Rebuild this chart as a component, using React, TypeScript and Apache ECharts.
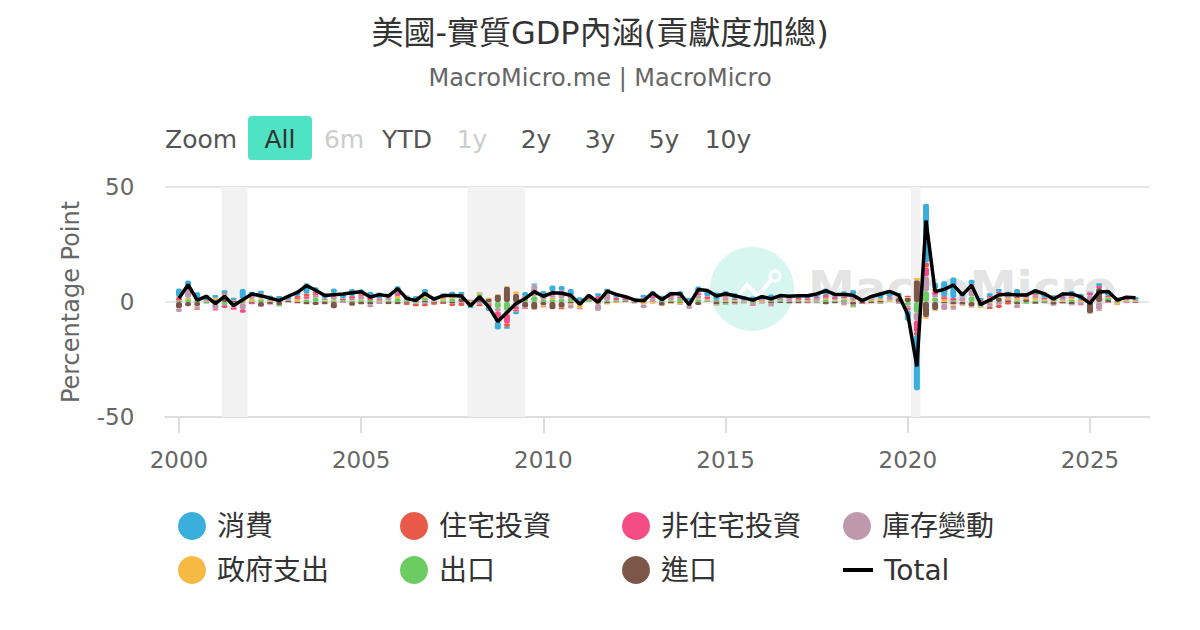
import React, { useEffect, useRef } from "react";
import * as echarts from "echarts";

// Quarterly data, 2000 Q1 .. 2026 Q2 (contribution to real GDP growth, percentage points)
const startYear = 2000;

const consumption = [
  3.6, 2.5, 2.4, 2.5, 1.1, 1.2, 1.0, 4.3, 1.2, 1.2, 1.9, 1.2, 1.6, 2.3, 4.4, 2.0,
  2.4, 2.0, 2.3, 3.0, 2.1, 2.3, 2.6, 0.8, 2.8, 1.0, 1.9, 2.7, 1.7, 0.7, 1.4, 0.8,
  -0.4, 0.1, -2.2, -3.4, -0.7, -1.2, 1.9, 0.5, 1.6, 2.5, 2.0, 3.0, 1.4, 0.6, 1.2, 0.7,
  1.7, 0.8, 1.0, 1.3, 2.3, 0.9, 1.5, 2.4, 1.0, 2.6, 2.5, 3.1, 2.1, 2.5, 2.0, 1.5,
  1.8, 2.4, 1.8, 1.4, 1.6, 1.6, 1.5, 2.9, 1.5, 2.4, 2.2, 0.7, 0.8, 2.6, 2.4, 1.2,
  -4.5, -24.0, 25.5, 2.6, 6.5, 9.0, 2.3, 2.0, 0.8, 1.2, 1.2, 0.8, 3.3, 0.7, 2.1, 2.3,
  1.3, 1.9, 2.5, 2.7, 0.4, 1.1, 2.4, 1.5, 1.3, 1.2,
];
const residential = [
  0.3, 0.0, -0.4, 0.1, 0.2, 0.3, 0.1, 0.2, 0.5, 0.3, 0.2, 0.4, 0.2, 0.5, 1.2, 0.6,
  0.4, 0.8, 0.1, 0.3, 0.5, 0.4, 0.3, 0.1, 0.1, -1.0, -1.1, -1.0, -0.9, -0.6, -1.2, -1.4,
  -1.3, -0.9, -0.7, -1.3, -1.7, -0.8, 0.4, 0.0, -0.3, 0.7, -0.8, 0.3, -0.1, 0.2, 0.0, 0.4,
  0.3, 0.2, 0.3, 0.5, 0.3, 0.4, 0.3, 0.0, -0.1, 0.3, 0.1, 0.3, 0.4, 0.4, 0.2, 0.4,
  0.5, -0.2, 0.1, 0.3, 0.5, -0.2, 0.0, 0.4, 0.1, -0.2, -0.2, -0.2, -0.1, -0.2, 0.2, 0.2,
  0.6, -1.4, 2.2, 1.2, 0.5, -0.3, -0.3, -0.1, 0.0, -0.8, -1.4, -1.1, -0.2, 0.0, 0.3, 0.1,
  0.4, -0.1, -0.2, 0.2, -0.1, -0.2, -0.2, -0.1, 0.0, 0.0,
];
const nonResidential = [
  1.5, 1.6, 1.0, 0.3, -0.6, -1.2, -1.0, -1.6, -0.7, -0.2, -0.2, 0.0, -0.1, 0.8, 1.1, 0.9,
  -0.1, 0.7, 0.8, 0.9, 0.5, 0.9, 0.6, 0.5, 1.3, 0.6, 0.6, 0.1, 0.2, 1.5, 1.1, 0.8,
  0.3, 0.1, -0.3, -3.2, -4.0, -1.5, -0.5, -0.1, 0.3, 1.1, 1.1, 0.9, -0.2, 1.1, 1.9, 1.1,
  1.0, 0.6, -0.1, 0.9, 0.5, 0.3, 0.4, 0.9, 0.8, 0.9, 1.2, 0.1, 0.2, 0.1, -0.1, -0.5,
  -0.1, 0.4, 0.3, 0.2, 0.6, 0.8, 0.5, 0.8, 1.0, 0.7, 0.4, 0.4, 0.5, 0.0, 0.3, 0.0,
  -1.2, -4.8, 3.8, 1.5, 0.9, 1.2, 0.2, 0.4, 0.7, 0.6, 0.6, 0.5, 0.7, 0.9, 0.4, 0.5,
  0.6, 0.5, 0.5, -0.4, 1.3, 0.9, 0.4, 0.4, 0.5, 0.4,
];
const inventories = [
  -1.6, 3.4, -1.0, -0.3, -2.6, 0.9, -0.7, -2.6, 1.5, 2.0, 0.0, 0.4, 0.5, -0.3, 0.2, 1.0,
  0.1, 1.5, -0.4, 0.6, 1.2, -1.3, -0.8, 1.6, -0.1, 0.6, -0.3, -0.9, 0.3, 0.1, 0.2, -0.3,
  -0.8, -1.0, -0.4, -1.5, -1.4, -1.6, 0.3, 5.0, 2.0, 1.0, 2.5, -1.6, -0.2, 0.1, -3.0, 3.2,
  0.2, 0.0, -0.3, -1.6, 1.5, 0.5, 1.8, -0.3, -1.5, 1.4, 0.0, -0.2, 1.6, -0.4, -0.4, -0.7,
  -0.4, -1.0, 0.3, 1.3, -0.2, 0.3, 1.2, 0.4, 0.4, -1.2, 2.2, 0.2, 0.6, 0.2, 1.0, -0.9,
  -0.8, -3.5, 6.5, 1.0, -2.7, -1.5, 2.0, 4.9, 0.2, -1.9, -1.2, 1.6, -1.4, 0.3, 1.2, -0.2,
  -0.4, 1.0, -0.2, -0.9, 2.6, -3.3, -0.2, 0.2, -0.5, 0.2,
];
const government = [
  0.1, 0.6, -0.3, 0.3, 0.7, 0.9, 0.3, 1.0, 1.0, 0.4, 0.4, 0.6, 0.0, 1.1, 0.2, 0.1,
  0.4, 0.2, 0.1, 0.2, 0.4, 0.0, 0.3, -0.1, 1.0, 0.0, 0.1, 0.8, 0.2, 0.6, 0.4, 0.4,
  0.5, 0.5, 0.5, 0.4, 0.4, 1.1, 0.2, -0.2, -0.6, 0.7, 0.1, -0.5, -1.3, 0.0, -0.6, -0.4,
  -0.4, -0.1, 0.1, -1.1, -0.7, -0.1, -0.4, -0.6, -0.3, 0.3, 0.4, -0.2, 0.5, 0.5, 0.3, 0.2,
  0.5, -0.1, 0.1, 0.0, 0.1, 0.2, 0.2, 0.5, 0.3, 0.5, 0.4, -0.1, 0.6, 0.8, 0.6, 0.6,
  0.3, 0.9, -0.8, -0.3, 1.1, -0.5, 0.1, -0.2, -0.4, -0.3, 0.5, 0.8, 0.8, 0.7, 0.9, 0.6,
  0.3, 0.5, 0.9, 0.6, -0.1, 0.0, 0.4, -0.9, 0.5, 0.3,
];
const exportsData = [
  0.4, 1.2, 0.8, -0.5, -0.5, -1.4, -1.7, -0.5, 0.3, 1.0, 0.3, -0.6, -0.1, 0.2, 1.0, 1.8,
  0.5, 0.7, 0.6, 0.6, 0.8, 0.9, 0.3, 0.6, 1.6, 0.6, -0.4, 1.6, 0.0, 0.8, 1.4, 1.0,
  0.2, 1.6, -0.3, -2.6, -3.8, -0.2, 1.6, 2.5, 0.9, 1.2, 1.3, 1.5, 0.7, 0.8, 0.7, 0.4,
  0.5, 0.5, 0.2, 0.1, -0.1, 0.6, 0.5, 1.5, -0.5, 1.2, 0.6, 0.6, -0.6, 0.3, -0.1, -0.4,
  -0.1, 0.5, 0.6, -0.2, 0.5, 0.3, 0.3, 0.9, 0.5, 0.9, -0.9, 0.2, 0.4, -0.4, 0.1, 0.3,
  -1.6, -4.7, 4.7, 2.0, -0.3, 0.5, -0.1, 2.4, -0.5, 1.6, 1.5, 0.0, 0.8, -0.8, 0.7, 0.6,
  0.3, 0.2, 1.0, -0.1, 0.2, -0.2, 0.9, -0.3, 0.2, 0.1,
];
const importsData = [
  -2.7, -1.8, -1.7, 0.0, 1.0, 1.8, 0.5, 0.2, -0.3, -2.0, -0.9, -1.4, 0.4, -0.4, -1.0, -1.3,
  -0.9, -2.7, 0.0, -1.6, -1.0, -1.0, -0.1, -0.9, -0.9, -0.3, -0.1, 0.4, -0.3, -0.3, -0.5, 1.3,
  -0.1, 1.9, 1.3, 3.1, 6.6, 3.5, -2.4, -3.2, -1.4, -3.2, -2.4, -0.7, -1.3, 0.1, -0.3, -0.7,
  0.0, 0.3, -0.3, 0.4, 0.2, -1.6, -0.5, -0.3, -0.6, -1.3, 0.2, -1.1, -0.6, -0.7, -0.1, 0.3,
  0.1, -0.6, -0.4, -0.5, -0.4, -0.3, -0.2, -1.0, -0.5, 0.2, -1.2, -0.6, -0.4, 0.5, 0.0, 1.6,
  1.8, 9.5, -6.5, -3.5, -0.5, -1.0, -1.1, -2.1, -1.8, 0.4, 1.9, 0.8, -1.0, 1.2, -0.8, -0.3,
  -1.2, -0.5, -1.0, 0.1, -4.9, 6.1, 0.9, 0.0, 0.1, -0.3,
];
const total = [
  1.6, 7.5, 0.8, 2.4, -0.7, 2.5, -1.5, 1.0, 3.5, 2.7, 1.7, 0.6, 2.5, 4.2, 7.1, 5.1,
  2.8, 3.2, 3.5, 4.0, 4.5, 2.2, 3.2, 2.6, 5.8, 1.5, 0.7, 3.7, 1.2, 2.8, 2.8, 2.6,
  -1.6, 2.3, -2.1, -8.5, -4.6, -0.7, 1.5, 4.5, 2.5, 4.0, 3.8, 2.9, -1.0, 2.9, -0.1, 4.7,
  3.3, 2.3, 0.9, 0.5, 4.0, 1.0, 3.6, 3.6, -1.2, 5.4, 5.0, 2.6, 3.6, 2.7, 1.8, 0.8,
  2.3, 1.4, 2.8, 2.5, 2.7, 2.7, 3.5, 4.9, 3.3, 3.3, 2.9, 0.6, 2.4, 3.5, 4.6, 3.0,
  -5.4, -28.0, 35.4, 4.5, 5.5, 7.4, 3.1, 7.3, -1.0, 0.8, 3.1, 3.4, 3.0, 3.0, 4.8, 3.6,
  1.3, 3.5, 3.5, 2.2, -0.6, 4.4, 4.6, 0.8, 2.1, 1.9,
];

const componentNames = ["消費", "住宅投資", "非住宅投資", "庫存變動", "政府支出", "出口", "進口"];
const componentData = [consumption, residential, nonResidential, inventories, government, exportsData, importsData];
const componentColors = ["#3aafdc", "#e9594a", "#f44d86", "#c098ad", "#f6ba44", "#6ccb61", "#7b5649"];
const totalName = "Total";

// recession periods (fractional years)
const recessions = [
  [2001.17, 2001.88],
  [2007.92, 2009.49],
  [2020.09, 2020.35],
];
const labelYears = [2000, 2005, 2010, 2015, 2020, 2025];
const rangeButtons = ["All", "6m", "YTD", "1y", "2y", "3y", "5y", "10y"];
const disabledButtons = ["6m", "1y"];

const FONT = "'DejaVu Sans', 'Noto Sans CJK TC', sans-serif";

// quarter categories: one empty quarter before and after the data
const PAD_BEFORE = 1;
const PAD_AFTER = 1;
const nQuarters = total.length + PAD_BEFORE + PAD_AFTER;
const quarterName = (k: number) => {
  const q0 = k - PAD_BEFORE; // 0 => 2000Q1
  const year = startYear + Math.floor(q0 / 4);
  const q = ((q0 % 4) + 4) % 4 + 1;
  return `${year}Q${q}`;
};
const categories = Array.from({ length: nQuarters }, (_, k) => quarterName(k));
const padded = (arr: number[]) => [
  ...Array(PAD_BEFORE).fill(null),
  ...arr,
  ...Array(PAD_AFTER).fill(null),
];
// a hidden value axis in years, lined up with the category bands
const yearAxisMin = startYear - (PAD_BEFORE + 0.5) * 0.25;
const yearAxisMax = yearAxisMin + nQuarters * 0.25;

export default function App() {
  const ref = useRef<HTMLDivElement>(null);

  useEffect(() => {
    if (!ref.current) return;
    const chart = echarts.init(ref.current, undefined, { renderer: "svg" });

    const barSeries = componentNames
      .map((name, k) => ({
        type: "bar",
        name,
        stack: "gdp",
        barWidth: 6,
        z: 3,
        itemStyle: { color: componentColors[k], borderRadius: 2 },
        data: padded(componentData[k]),
      }))
      .reverse();

    const legendNames = [...componentNames, totalName];
    const legendCols = [178, 400, 622, 843];
    const legendRows = [512, 556];
    const legends = legendNames.map((name, i) => {
      const isTotal = name === totalName;
      return {
        data: [name],
        left: legendCols[i % 4],
        top: legendRows[Math.floor(i / 4)],
        padding: 0,
        selectedMode: false,
        icon: isTotal ? "rect" : "circle",
        itemWidth: isTotal ? 30 : 28,
        itemHeight: isTotal ? 4 : 28,
        textStyle: {
          fontSize: 28,
          color: "#333",
          fontFamily: FONT,
          lineHeight: 28,
          padding: [0, 0, 0, isTotal ? 6 : 6],
        },
      };
    });

    const buttonX = [280, 344, 407, 472, 536, 600, 664, 728];
    const graphics: any[] = [
      // watermark
      { type: "circle", shape: { cx: 752, cy: 289, r: 42 }, style: { fill: "#d6f6ef" }, z: 0, silent: true },
      {
        type: "polyline",
        shape: { points: [[732, 304], [747, 285], [758, 296], [771, 280]] },
        style: { stroke: "#ffffff", lineWidth: 4, fill: "none" },
        z: 0,
        silent: true,
      },
      { type: "circle", shape: { cx: 775, cy: 276, r: 5 }, style: { stroke: "#ffffff", lineWidth: 3, fill: "none" }, z: 0, silent: true },
      {
        type: "text",
        x: 808,
        y: 287,
        style: { text: "MacroMicro", font: `bold 47px ${FONT}`, fill: "#e4e4e4", verticalAlign: "middle" },
        z: 0,
        silent: true,
      },
      // range selector
      {
        type: "text",
        x: 165,
        y: 139,
        style: { text: "Zoom", font: `25px ${FONT}`, fill: "#555", verticalAlign: "middle" },
      },
      { type: "rect", shape: { x: 248, y: 116, width: 64, height: 44, r: 4 }, style: { fill: "#4fe3c3" } },
      ...rangeButtons.map((b, i) => ({
        type: "text",
        x: buttonX[i],
        y: 139,
        style: {
          text: b,
          font: `25px ${FONT}`,
          fill: b === "All" ? "#333" : disabledButtons.includes(b) ? "#cccccc" : "#555",
          align: "center",
          verticalAlign: "middle",
        },
      })),
    ];

    const isLabelQuarter = (value: string) =>
      value.endsWith("Q1") && labelYears.includes(Number(value.slice(0, 4)));

    const option: any = {
      animation: false,
      backgroundColor: "#ffffff",
      textStyle: { fontFamily: FONT },
      title: {
        text: "美國-實質GDP內涵(貢獻度加總)",
        subtext: "MacroMicro.me | MacroMicro",
        left: "center",
        top: 12,
        itemGap: 17,
        textStyle: { fontSize: 32, fontWeight: "normal", color: "#333", fontFamily: FONT },
        subtextStyle: { fontSize: 24, color: "#666", fontFamily: FONT },
      },
      legend: legends,
      grid: { left: 165.3, right: 50.8, top: 187, bottom: 213 },
      xAxis: [
        {
          type: "category",
          data: categories,
          boundaryGap: true,
          splitLine: { show: false },
          axisLine: { show: true, onZero: false, lineStyle: { color: "#dddddd", width: 2 } },
          axisTick: {
            show: true,
            alignWithLabel: true,
            interval: (_i: number, v: string) => isLabelQuarter(v),
            length: 16,
            lineStyle: { color: "#dddddd", width: 2 },
          },
          axisLabel: {
            interval: (_i: number, v: string) => isLabelQuarter(v),
            fontSize: 23,
            color: "#666",
            margin: 31,
            fontFamily: FONT,
            formatter: (v: string) => v.slice(0, 4),
          },
        },
        {
          type: "value",
          min: yearAxisMin,
          max: yearAxisMax,
          show: false,
          splitLine: { show: false },
        },
      ],
      yAxis: {
        type: "value",
        min: -50,
        max: 50,
        interval: 50,
        name: "Percentage Point",
        nameLocation: "middle",
        nameGap: 82,
        nameTextStyle: { fontSize: 24, color: "#666", fontFamily: FONT },
        axisLine: { show: false },
        axisTick: { show: false },
        axisLabel: { fontSize: 23, color: "#666", margin: 31, fontFamily: FONT },
        splitLine: { lineStyle: { color: "#e6e6e6", width: 2 } },
      },
      graphic: graphics,
      series: [
        {
          type: "line",
          name: "recession",
          xAxisIndex: 1,
          data: [],
          z: 1,
          silent: true,
          markArea: {
            silent: true,
            itemStyle: { color: "#f2f2f2" },
            data: recessions.map(([a, b]) => [{ xAxis: a }, { xAxis: b }]),
          },
        },
        ...barSeries,
        {
          type: "line",
          name: totalName,
          data: padded(total),
          symbol: "none",
          z: 5,
          lineStyle: { color: "#000000", width: 3.5 },
          itemStyle: { color: "#000000" },
        },
      ],
    };

    chart.setOption(option);
    return () => chart.dispose();
  }, []);

  return (
    <div
      ref={ref}
      style={{ position: "fixed", left: 0, top: 0, width: 1200, height: 630, background: "#fff" }}
    />
  );
}
